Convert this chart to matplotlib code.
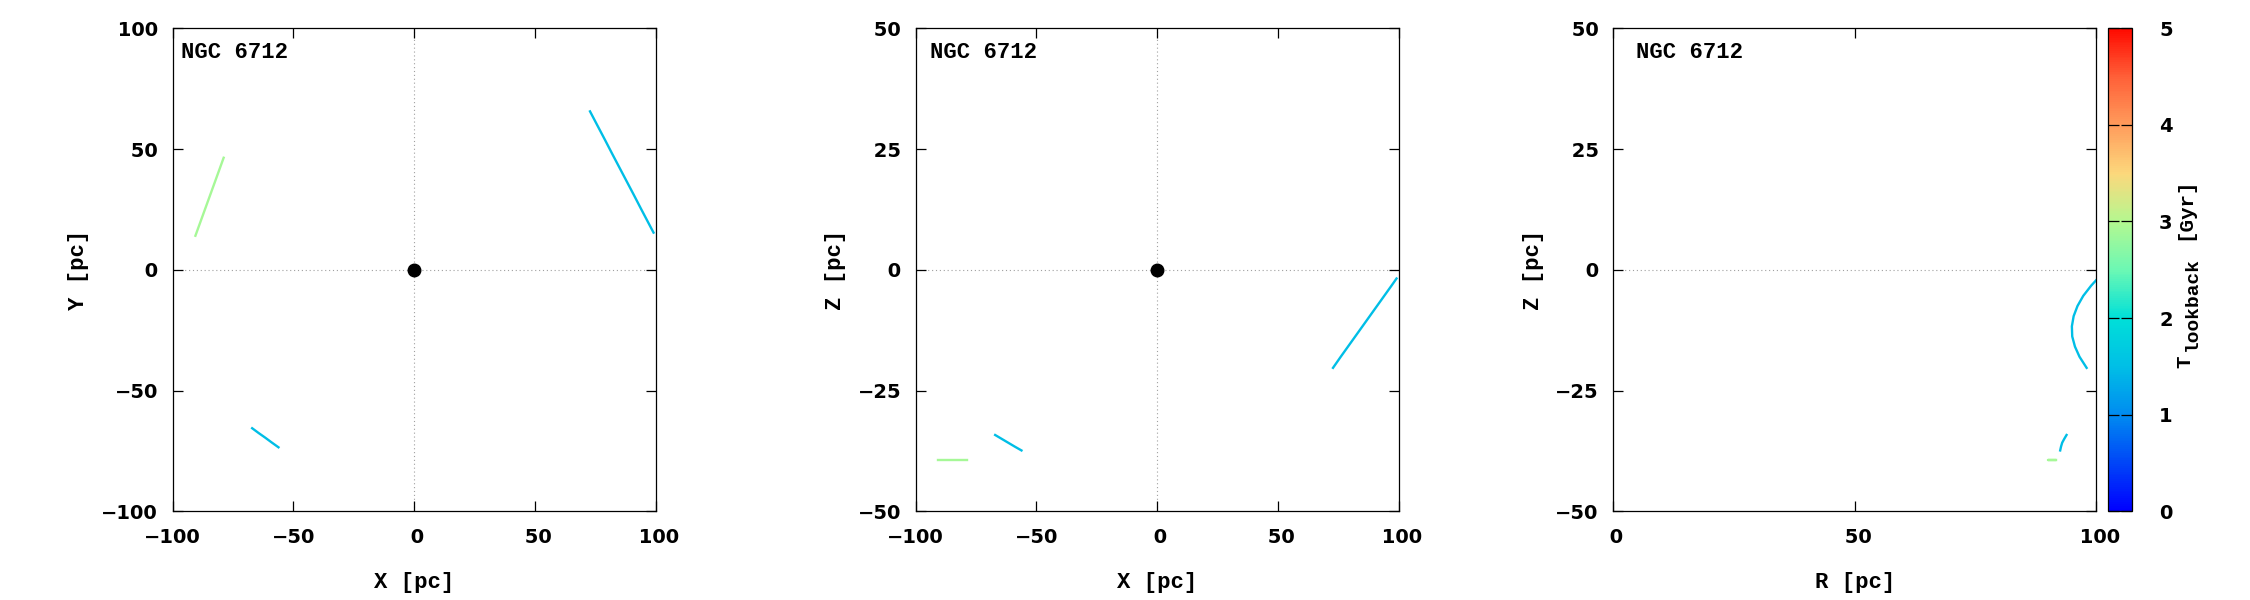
import numpy as np
import matplotlib
matplotlib.use('Agg')
import matplotlib.pyplot as plt
from matplotlib.colors import LinearSegmentedColormap, Normalize
from matplotlib.cm import ScalarMappable

# ---- data (pc) ----
cluster = 'NGC 6712'

# long cyan track
trk1_x = [72.8, 76.0, 79.0, 82.0, 85.0, 88.0, 91.0, 94.0, 97.0, 99.1]
trk1_y = [65.6, 59.5, 53.8, 48.0, 42.3, 36.6, 30.9, 25.1, 19.4, 15.4]
trk1_z = [-20.3, -18.0, -15.9, -13.8, -11.7, -9.6, -7.5, -5.4, -3.3, -1.8]
trk1_t = 1.5

# short cyan track
trk2_x = [-67.1, -64.4, -61.7, -59.0, -56.2]
trk2_y = [-65.6, -67.6, -69.5, -71.5, -73.5]
trk2_z = [-34.2, -35.0, -35.8, -36.6, -37.4]
trk2_t = 1.5

# green track
trk3_x = [-90.6, -87.7, -84.8, -81.9, -78.9]
trk3_y = [14.1, 22.1, 30.1, 38.1, 46.4]
trk3_z = [-39.3, -39.3, -39.3, -39.3, -39.3]
trk3_t = 2.9

tracks = [(trk1_x, trk1_y, trk1_z, trk1_t),
          (trk2_x, trk2_y, trk2_z, trk2_t),
          (trk3_x, trk3_y, trk3_z, trk3_t)]

cbar_ticks = [0, 1, 2, 3, 4, 5]
t_min, t_max = 0, 5

# palette like the gnuplot one
pal = LinearSegmentedColormap.from_list('lookback', [
    (0.00, '#0000ff'), (0.20, '#008cf0'), (0.30, '#00bfe6'),
    (0.40, '#00e0d8'), (0.50, '#6cf8b4'), (0.60, '#b4f890'),
    (0.70, '#fcd87c'), (0.80, '#ff9c5c'), (0.90, '#ff6038'),
    (1.00, '#ff0a00')])
norm = Normalize(t_min, t_max)

MONO = 'Liberation Mono'
W, H = 2250, 600

fig = plt.figure(figsize=(22.5, 6), dpi=100)


def px_ax(left, top, w, h):
    return fig.add_axes([left / W, (H - top - h) / H, w / W, h / H])


def fmt(v):
    return ('\u2212%d' % -v) if v < 0 else (' %d' % v)


def style(ax, xt, yt, xlab, ylab, ylab_x):
    ax.set_xticks(xt, [fmt(v) for v in xt])
    ax.set_yticks(yt, [fmt(v) for v in yt])
    ax.set_xlim(xt[0], xt[-1])
    ax.set_ylim(yt[0], yt[-1])
    ax.tick_params(direction='in', length=7.5, width=0.9, top=True, right=True,
                   labelsize=14)
    ax.tick_params(axis='x', pad=12)
    ax.tick_params(axis='y', pad=10.5)
    for lb in ax.get_xticklabels() + ax.get_yticklabels():
        lb.set_fontweight('bold')
    for s in ax.spines.values():
        s.set_linewidth(0.9)
    ax.set_xlabel(xlab, family=MONO, weight='bold', fontsize=16)
    ax.set_ylabel(ylab, family=MONO, weight='bold', fontsize=16)
    ax.xaxis.label.set_va('center')
    ax.yaxis.label.set_va('center')
    ax.xaxis.set_label_coords(0.5, -0.147)
    ax.yaxis.set_label_coords(ylab_x, 0.5)


zline = dict(color='#a0a0a0', lw=0.8, ls=(0, (1, 2.5)), zorder=0)
ax_lw = 1.7
lefts = [172.7, 915.7, 1613.3]
size = 483
top = 28.3

# X-Y
ax1 = px_ax(lefts[0], top, size, size)
ax1.axhline(0, **zline)
ax1.axvline(0, **zline)
for x, y, z, t in tracks:
    ax1.plot(x, y, color=pal(norm(t)), lw=ax_lw)
ax1.plot([0], [0], 'o', color='k', ms=9)
style(ax1, [-100, -50, 0, 50, 100], [-100, -50, 0, 50, 100], 'X [pc]', 'Y [pc]', -0.194)
ax1.text(0.017, 0.9385, cluster, transform=ax1.transAxes, family=MONO,
         weight='bold', fontsize=16, va='baseline')

# X-Z
ax2 = px_ax(lefts[1], top, size, size)
ax2.axhline(0, **zline)
ax2.axvline(0, **zline)
for x, y, z, t in tracks:
    ax2.plot(x, z, color=pal(norm(t)), lw=ax_lw)
ax2.plot([0], [0], 'o', color='k', ms=9)
style(ax2, [-100, -50, 0, 50, 100], [-50, -25, 0, 25, 50], 'X [pc]', 'Z [pc]', -0.166)
ax2.text(0.030, 0.9385, cluster, transform=ax2.transAxes, family=MONO,
         weight='bold', fontsize=16, va='baseline')

# R-Z
ax3 = px_ax(lefts[2], top, size, size)
ax3.axhline(0, **zline)
for x, y, z, t in tracks:
    r = np.hypot(x, y)
    ax3.plot(r, z, color=pal(norm(t)), lw=ax_lw)
style(ax3, [0, 50, 100], [-50, -25, 0, 25, 50], 'R [pc]', 'Z [pc]', -0.166)
ax3.text(0.048, 0.9385, cluster, transform=ax3.transAxes, family=MONO,
         weight='bold', fontsize=16, va='baseline')

# colour bar
cax = px_ax(2108, top, 24, size)
cb = fig.colorbar(ScalarMappable(norm=norm, cmap=pal), cax=cax)
cb.set_ticks(cbar_ticks)
cb.outline.set_linewidth(0.9)
cax.tick_params(direction='in', length=8, width=0.9, left=True, right=True,
                labelsize=14, pad=19.5)
for lb in cax.get_yticklabels():
    lb.set_fontweight('bold')

lab = dict(rotation=90, rotation_mode='anchor', ha='left', va='baseline',
           family=MONO, weight='bold')
fig.text(2190 / W, (H - 368) / H, 'T', fontsize=15, **lab)
fig.text(2197 / W, (H - 351) / H, 'lookback', fontsize=14, **lab)
fig.text(2190 / W, (H - 240) / H, '[Gyr]', fontsize=15, **lab)

fig.savefig('out.png', dpi=100)
